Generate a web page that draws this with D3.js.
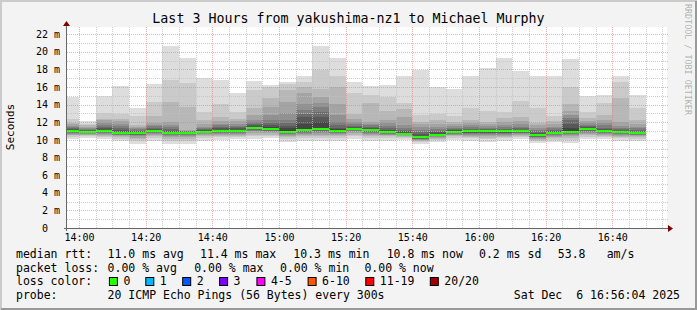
<!DOCTYPE html>
<html>
<head>
<meta charset="utf-8">
<script src="https://cdn.jsdelivr.net/npm/d3@7"></script>
<style>
  body { margin: 0; background: #f3f3f3; }
  text { font-family: "DejaVu Sans Mono", monospace; }
</style>
</head>
<body>
<div id="chart"></div>
<script>
// 5 minute steps (end time of each step), SmokePing style
const stepEnds = ["14:00","14:05","14:10","14:15","14:20","14:25","14:30","14:35","14:40","14:45","14:50","14:55",
  "15:00","15:05","15:10","15:15","15:20","15:25","15:30","15:35","15:40","15:45","15:50","15:55",
  "16:00","16:05","16:10","16:15","16:20","16:25","16:30","16:35","16:40","16:45","16:50"];

// median rtt per step (ms)
const medianRtt = [11.03,10.9,11.03,10.73,10.75,11.03,10.77,10.77,10.9,11.03,11.03,11.37,
  11.25,10.9,11.12,11.2,11.05,11.2,11.15,10.9,10.7,10.28,10.58,10.92,
  10.95,10.95,10.95,10.95,10.54,10.77,10.92,11.19,10.96,10.85,10.72];

// packet loss per step (all 0 of 20)
const lossCount = [0,0,0,0,0,0,0,0,0,0,0,0,0,0,0,0,0,0,0,0,0,0,0,0,0,0,0,0,0,0,0,0,0,0,0];

// 20 sorted pings per step (ms)
const pings = [
  [10.05,10.35,10.5,10.6,10.7,10.78,10.85,10.92,10.97,11.01,11.05,11.12,11.2,11.3,11.45,11.6,11.75,11.9,12.36,14.9],
  [10.2,10.4,10.5,10.6,10.66,10.72,10.78,10.83,10.87,10.89,10.92,10.97,11.03,11.1,11.2,11.3,11.45,11.7,11.85,12.1],
  [10.05,10.3,10.45,10.55,10.65,10.75,10.85,10.92,10.98,11.01,11.05,11.15,11.3,11.5,11.7,11.95,12.2,12.4,13.0,15.0],
  [9.9,10.15,10.3,10.4,10.5,10.56,10.62,10.67,10.7,10.72,10.75,10.9,11.1,11.35,11.6,11.85,12.1,12.4,12.9,16.1],
  [9.5,9.85,10.1,10.25,10.4,10.5,10.6,10.67,10.72,10.74,10.77,10.85,10.95,11.05,11.2,11.35,11.5,11.7,12.7,13.6],
  [9.9,10.2,10.4,10.55,10.65,10.75,10.85,10.93,10.98,11.01,11.05,11.15,11.25,11.4,11.55,11.7,11.9,12.7,14.3,16.3],
  [9.5,9.9,10.15,10.3,10.45,10.55,10.63,10.69,10.73,10.76,10.79,10.9,11.05,11.25,11.45,11.65,12.05,14.3,16.8,20.6],
  [9.5,9.9,10.15,10.3,10.45,10.55,10.63,10.69,10.73,10.76,10.79,10.84,10.9,10.95,11.0,11.05,11.1,13.75,16.5,19.3],
  [9.9,10.2,10.4,10.55,10.65,10.73,10.8,10.84,10.87,10.89,10.92,10.98,11.08,11.2,11.35,11.5,11.8,12.2,13.15,17.0],
  [10.0,10.3,10.45,10.55,10.65,10.75,10.85,10.93,10.98,11.01,11.05,11.15,11.3,11.45,11.65,11.85,12.1,12.6,14.1,16.8],
  [10.05,10.3,10.45,10.55,10.65,10.75,10.85,10.93,10.98,11.01,11.05,11.15,11.3,11.45,11.6,11.8,12.1,12.4,13.2,15.3],
  [10.05,10.4,10.6,10.8,10.95,11.05,11.15,11.25,11.3,11.35,11.39,11.5,11.65,11.8,12.0,12.3,12.8,13.6,15.7,16.7],
  [10.2,10.45,10.6,10.75,10.85,10.95,11.05,11.12,11.2,11.24,11.27,11.5,11.7,11.9,12.2,12.8,13.75,14.7,16.0,16.2],
  [9.75,10.1,10.3,10.45,10.6,10.7,10.78,10.84,10.88,10.89,10.92,11.3,11.6,11.9,12.2,13.0,14.3,15.6,16.3,16.6],
  [9.9,10.2,10.4,10.55,10.7,10.82,10.92,11.02,11.08,11.11,11.14,11.8,12.6,12.9,13.4,14.1,15.3,16.0,16.6,17.2],
  [9.9,10.2,10.4,10.6,10.75,10.88,11.0,11.1,11.16,11.19,11.22,12.0,12.6,13.2,13.75,14.2,14.9,15.8,17.9,20.6],
  [9.9,10.2,10.4,10.55,10.7,10.8,10.9,10.98,11.02,11.04,11.07,11.2,11.4,11.7,12.05,12.8,14.1,16.0,17.2,19.3],
  [10.05,10.4,10.6,10.75,10.88,10.98,11.08,11.14,11.17,11.19,11.22,11.3,11.45,11.6,11.8,12.05,12.4,12.9,15.3,16.6],
  [9.9,10.2,10.4,10.55,10.7,10.82,10.92,11.02,11.1,11.14,11.17,11.25,11.35,11.5,11.65,11.85,12.05,14.2,15.1,16.1],
  [9.9,10.2,10.4,10.5,10.6,10.68,10.75,10.82,10.87,10.89,10.92,11.0,11.15,11.35,11.6,11.9,12.2,13.3,14.9,16.2],
  [10.0,10.2,10.35,10.45,10.52,10.58,10.63,10.66,10.68,10.69,10.72,10.8,10.95,11.15,11.4,11.7,12.6,13.45,14.2,17.2],
  [9.5,9.7,9.85,9.95,10.02,10.08,10.14,10.19,10.24,10.27,10.3,10.45,10.65,10.9,11.15,11.45,11.75,12.05,12.8,17.9],
  [9.75,9.95,10.1,10.2,10.3,10.38,10.45,10.5,10.55,10.57,10.6,10.7,10.85,11.0,11.2,11.45,11.8,12.2,12.9,15.95],
  [10.0,10.25,10.4,10.5,10.6,10.68,10.75,10.82,10.88,10.91,10.94,11.02,11.12,11.25,11.4,11.6,11.8,12.05,12.7,15.8],
  [9.9,10.2,10.35,10.48,10.58,10.66,10.74,10.82,10.9,10.94,10.97,11.03,11.12,11.25,11.45,11.65,11.9,12.2,13.6,17.2],
  [9.75,10.05,10.25,10.4,10.52,10.62,10.72,10.82,10.9,10.94,10.97,11.02,11.1,11.2,11.35,11.55,11.8,12.05,13.3,18.1],
  [9.9,10.2,10.35,10.48,10.58,10.66,10.74,10.82,10.9,10.94,10.97,11.03,11.12,11.25,11.45,11.7,12.0,12.5,13.15,19.3],
  [10.05,10.3,10.45,10.55,10.64,10.72,10.8,10.86,10.91,10.94,10.97,11.04,11.15,11.3,11.5,11.75,12.1,12.6,14.4,17.8],
  [9.6,9.85,10.0,10.12,10.22,10.3,10.37,10.43,10.49,10.53,10.56,10.65,10.78,10.95,11.15,11.4,11.65,11.9,13.6,17.2],
  [9.75,10.0,10.2,10.35,10.47,10.56,10.63,10.69,10.74,10.76,10.79,10.87,10.98,11.12,11.3,11.5,11.75,12.1,12.7,17.2],
  [9.6,9.95,10.2,10.38,10.52,10.64,10.74,10.82,10.88,10.91,10.94,11.3,11.8,12.2,12.5,12.8,13.3,14.1,16.0,19.2],
  [10.05,10.35,10.55,10.7,10.83,10.94,11.03,11.1,11.15,11.18,11.21,11.3,11.42,11.56,11.72,11.9,12.15,12.5,13.2,15.0],
  [10.05,10.3,10.45,10.58,10.68,10.77,10.84,10.9,10.94,10.95,10.98,11.08,11.2,11.4,11.65,11.95,12.3,12.8,14.2,15.1],
  [9.9,10.2,10.35,10.48,10.58,10.66,10.74,10.8,10.83,10.84,10.87,10.95,11.05,11.2,11.4,11.6,12.05,14.7,16.6,17.2],
  [9.9,10.15,10.3,10.42,10.5,10.57,10.63,10.68,10.7,10.71,10.74,10.82,10.94,11.1,11.3,11.5,11.8,12.3,13.6,15.1]
];

const yTicks = [0,2,4,6,8,10,12,14,16,18,20,22];
const xTicks = ["14:00","14:20","14:40","15:00","15:20","15:40","16:00","16:20","16:40"];
const lossLabels = ["0","1","2","3","4-5","6-10","11-19","20/20"];
const lossColors = ["#26ff00","#00b8ff","#0059ff","#7e00ff","#ff00ff","#ff5500","#ff0000","#a10000"];

const W = 697, H = 310;
const day = "2025-12-06 ";
const parseT = d3.timeParse("%Y-%m-%d %H:%M:%S");
const t = s => parseT(day + (s.length === 5 ? s + ":00" : s));

const pLeft = 67, pRight = 667, pTop = 27, pBottom = 228;
const x = d3.scaleTime().domain([t("13:56:24"), t("16:56:24")]).range([pLeft, pRight]);
const y = d3.scaleLinear().domain([0, 22.8]).range([pBottom, pTop]);

const svg = d3.select("#chart").append("svg")
  .attr("width", W).attr("height", H)
  .style("display", "block");

// background + shaded frame
svg.append("rect").attr("width", W).attr("height", H).attr("fill", "#f3f3f3");
svg.append("path").attr("d", `M1,${H} V1 H${W}`).attr("fill", "none").attr("stroke", "#cbcbcb").attr("stroke-width", 2);
svg.append("path").attr("d", `M1,${H - 1} H${W - 1} V1`).attr("fill", "none").attr("stroke", "#999").attr("stroke-width", 2);

svg.append("rect").attr("x", pLeft).attr("y", pTop).attr("width", pRight - pLeft).attr("height", pBottom - pTop)
  .attr("fill", "#fff");

svg.append("clipPath").attr("id", "plot")
  .append("rect").attr("x", pLeft).attr("y", pTop).attr("width", pRight - pLeft).attr("height", pBottom - pTop);

const steps = stepEnds.map((s, k) => ({
  end: t(s),
  start: d3.timeMinute.offset(t(s), -5),
  median: medianRtt[k],
  loss: lossCount[k],
  pings: pings[k]
}));

// smoke: band i spans ping i .. ping (21-i), darker towards the middle
const smoke = svg.append("g").attr("clip-path", "url(#plot)").attr("shape-rendering", "crispEdges");
for (let i = 1; i <= 10; i++) {
  const g = Math.floor(190 / 10 * (10 - i)) + 50;
  smoke.selectAll(null).data(steps).enter().append("rect")
    .attr("x", d => x(d.start))
    .attr("width", d => x(d.end) - x(d.start))
    .attr("y", d => y(d.pings[20 - i]))
    .attr("height", d => y(d.pings[i - 1]) - y(d.pings[20 - i]))
    .attr("fill", d3.rgb(g, g, g));
}

// median, coloured by loss
const lossColor = n => n === 0 ? lossColors[0] : n === 1 ? lossColors[1] : n === 2 ? lossColors[2] :
  n === 3 ? lossColors[3] : n <= 5 ? lossColors[4] : n <= 10 ? lossColors[5] : n <= 19 ? lossColors[6] : lossColors[7];
smoke.selectAll(null).data(steps).enter().append("rect")
  .attr("x", d => x(d.start))
  .attr("width", d => x(d.end) - x(d.start))
  .attr("y", d => y(d.median) - 1)
  .attr("height", 2)
  .attr("fill", d => lossColor(d.loss));

// grid on top
const grid = svg.append("g").attr("shape-rendering", "crispEdges").attr("stroke-dasharray", "1,1");
const minorY = d3.range(1, 23, 2);
grid.selectAll(null).data(minorY).enter().append("line")
  .attr("x1", pLeft).attr("x2", pRight + 1)
  .attr("y1", d => Math.round(y(d)) + 0.5).attr("y2", d => Math.round(y(d)) + 0.5)
  .attr("stroke", "#c0c0c0").attr("stroke-opacity", 0.8);
const minorX = d3.timeMinute.every(5).range(x.domain()[0], x.domain()[1]).filter(d => d.getMinutes() % 20 !== 0);
grid.selectAll(null).data(minorX).enter().append("line")
  .attr("x1", d => Math.round(x(d)) + 0.5).attr("x2", d => Math.round(x(d)) + 0.5)
  .attr("y1", pTop).attr("y2", pBottom)
  .attr("stroke", "#c0c0c0").attr("stroke-opacity", 0.8);
grid.selectAll(null).data(yTicks.slice(1)).enter().append("line")
  .attr("x1", pLeft).attr("x2", pRight + 1)
  .attr("y1", d => Math.round(y(d)) + 0.5).attr("y2", d => Math.round(y(d)) + 0.5)
  .attr("stroke", "#e87a7a").attr("stroke-opacity", 0.6);
grid.selectAll(null).data(xTicks.map(t)).enter().append("line")
  .attr("x1", d => Math.round(x(d)) + 0.5).attr("x2", d => Math.round(x(d)) + 0.5)
  .attr("y1", pTop).attr("y2", pBottom)
  .attr("stroke", "#e87a7a").attr("stroke-opacity", 0.6);

// axes labels via d3 axes
const yAxis = svg.append("g").attr("transform", `translate(${pLeft},0)`)
  .call(d3.axisLeft(y).tickValues(yTicks).tickSize(0).tickPadding(7)
    .tickFormat(d => d === 0 ? "0\u00a0\u00a0" : d + " m"));
const xAxis = svg.append("g").attr("transform", `translate(0,${pBottom})`)
  .call(d3.axisBottom(x).tickValues(xTicks.map(t)).tickSize(0).tickPadding(6)
    .tickFormat(d3.timeFormat("%H:%M")));
[yAxis, xAxis].forEach(a => {
  a.select(".domain").remove();
  a.attr("font-family", null).attr("font-size", null);
  a.selectAll("text").attr("font-size", "10px").attr("fill", "#000")
    .style("font-family", "'DejaVu Sans Mono', monospace");
});

// axis lines with arrows
svg.append("line").attr("x1", pLeft - 3).attr("x2", pRight + 3).attr("y1", pBottom + 0.5).attr("y2", pBottom + 0.5)
  .attr("stroke", "#666").attr("shape-rendering", "crispEdges");
svg.append("line").attr("x1", pLeft - 0.5).attr("x2", pLeft - 0.5).attr("y1", pBottom + 3).attr("y2", pTop - 2)
  .attr("stroke", "#666").attr("shape-rendering", "crispEdges");
svg.append("path").attr("d", `M${pLeft - 4},${pTop - 1} L${pLeft + 3},${pTop - 1} L${pLeft - 0.5},${pTop - 6} Z`).attr("fill", "#800000");
svg.append("path").attr("d", `M${pRight + 1},${pBottom - 3} L${pRight + 1},${pBottom + 4} L${pRight + 6},${pBottom + 0.5} Z`).attr("fill", "#800000");

// title, unit, watermark
svg.append("text").attr("x", W / 2).attr("y", 23).attr("text-anchor", "middle")
  .attr("font-size", "13.3px").text("Last 3 Hours from yakushima-nz1 to Michael Murphy");
svg.append("text").attr("transform", "translate(14,127) rotate(-90)").attr("text-anchor", "middle")
  .attr("font-size", "11px").text("Seconds");
svg.append("text").attr("transform", "translate(685,4) rotate(90)").attr("text-anchor", "start")
  .attr("font-size", "8.4px").attr("fill", "#000").attr("fill-opacity", 0.3)
  .text("RRDTOOL / TOBI OETIKER");

// legend
const legendRows = [
  [[16, "median rtt:"], [107.6, "11.0 ms avg"], [200, "11.4 ms max"], [293.3, "10.3 ms min"],
   [386.7, "10.8 ms now"], [479, "0.2 ms sd"], [557.8, "53.8"], [606.7, "am/s"]],
  [[16, "packet loss:"], [107.6, "0.00 % avg"], [194.2, "0.00 % max"], [280, "0.00 % min"], [364.4, "0.00 % now"]],
  [[16, "loss color:"]],
  [[16, "probe:"], [107.6, "20 ICMP Echo Pings (56 Bytes) every 300s"]]
];
const rowY = [258, 271.7, 285, 298.5];
const legend = svg.append("g").attr("font-size", "11.5px").attr("fill", "#000");
legendRows.forEach((row, r) => {
  row.forEach(([lx, s]) => legend.append("text").attr("x", lx).attr("y", rowY[r]).text(s));
});
legend.append("text").attr("x", 680).attr("y", rowY[3]).attr("text-anchor", "end")
  .style("white-space", "pre").text("Sat Dec  6 16:56:04 2025");

const boxX = [108.9, 145.3, 182.2, 219.1, 256.4, 307.6, 365.3, 429.8];
lossLabels.forEach((lab, k) => {
  legend.append("rect").attr("x", boxX[k] + 0.5).attr("y", 277.5).attr("width", 8).attr("height", 8)
    .attr("fill", lossColors[k]).attr("stroke", "#000").attr("stroke-width", 1);
  legend.append("text").attr("x", boxX[k] + 14.5).attr("y", rowY[2]).text(lab);
});
</script>
</body>
</html>
